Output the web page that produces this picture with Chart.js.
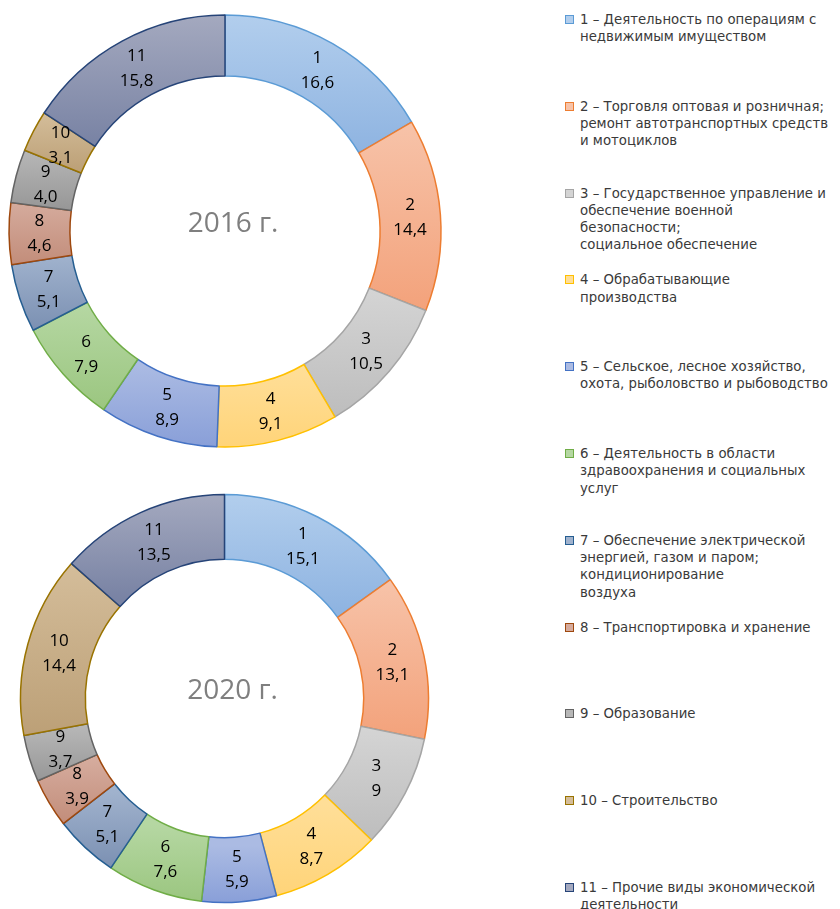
<!DOCTYPE html>
<html>
<head>
<meta charset="utf-8">
<script src="https://cdn.jsdelivr.net/npm/chart.js@4.4.1/dist/chart.umd.min.js"></script>
<style>
  body { margin: 0; background: #fff; width: 840px; height: 909px; overflow: hidden; position: relative; font-family: "Open Sans", sans-serif; }
  canvas { position: absolute; }
  #legend { position: absolute; left: 565px; top: 0; width: 275px; height: 909px; overflow: hidden; }
  .item { position: absolute; left: 0; white-space: nowrap; font-family: "DejaVu Sans", sans-serif; font-size: 13.3px; line-height: 17.3px; color: #3a3a3a; }
  .box { position: absolute; left: 0; top: 4px; width: 7px; height: 7px; border: 1px solid; }
  .txt { position: absolute; left: 15px; top: 0; }
</style>
</head>
<body>
<canvas id="chart2016" width="450" height="462" style="left:0;top:0"></canvas>
<canvas id="chart2020" width="449" height="447" style="left:0;top:475px"></canvas>
<div id="legend"></div>
<script>
// Data
var categories = ['1', '2', '3', '4', '5', '6', '7', '8', '9', '10', '11'];
var values2016 = [16.6, 14.4, 10.5, 9.1, 8.9, 7.9, 5.1, 4.6, 4.0, 3.1, 15.8];
var values2020 = [15.1, 13.1, 9, 8.7, 5.9, 7.6, 5.1, 3.9, 3.7, 14.4, 13.5];
var legendLabels = [
    ['1 – Деятельность по операциям с', 'недвижимым имуществом'],
    ['2 – Торговля оптовая и розничная;', 'ремонт автотранспортных средств', 'и мотоциклов'],
    ['3 – Государственное управление и', 'обеспечение военной', 'безопасности;', 'социальное обеспечение'],
    ['4 – Обрабатывающие', 'производства'],
    ['5 – Сельское, лесное хозяйство,', 'охота, рыболовство и рыбоводство'],
    ['6 – Деятельность в области', 'здравоохранения и социальных', 'услуг'],
    ['7 – Обеспечение электрической', 'энергией, газом и паром;', 'кондиционирование', 'воздуха'],
    ['8 – Транспортировка и хранение'],
    ['9 – Образование'],
    ['10 – Строительство'],
    ['11 – Прочие виды экономической', 'деятельности']
];

// Colors (gradient top -> bottom, outline)
var lightColors = ['#b2ceed', '#f7c3a9', '#d4d4d4', '#ffde97', '#abbbe3', '#b5d7a2', '#a0b2cd', '#d5ab9d', '#b7b7b7', '#d4bd9a', '#a4a9bf'];
var darkColors = ['#8fb4e1', '#f3a27b', '#bdbdbd', '#ffd479', '#899fd8', '#9bc680', '#7b90b2', '#c28d7a', '#979797', '#bca077', '#7983a4'];
var borderColors = ['#5b9bd5', '#ed7d31', '#a5a5a5', '#ffc000', '#4472c4', '#70ad47', '#255e91', '#9e480e', '#636363', '#997300', '#264478'];

// Gradient per slice, spanning the slice's own vertical extent
function sliceGradient(c, radius, cutout) {
    var chart = c.chart;
    var area = chart.chartArea;
    var i = c.dataIndex;
    if (!area || i === undefined) return lightColors[0];
    var data = c.dataset.data;
    var total = 0, before = 0;
    data.forEach(function(v, k) {
        total += v;
        if (k < i) before += v;
    });
    var a0 = -Math.PI / 2 + 2 * Math.PI * before / total;
    var a1 = a0 + 2 * Math.PI * data[i] / total;
    var cy = (area.top + area.bottom) / 2;
    var minY = Infinity, maxY = -Infinity;
    for (var s = 0; s <= 24; s++) {
        var a = a0 + (a1 - a0) * s / 24;
        [radius, cutout].forEach(function(r) {
            var y = cy + r * Math.sin(a);
            if (y < minY) minY = y;
            if (y > maxY) maxY = y;
        });
    }
    var g = chart.ctx.createLinearGradient(0, minY, 0, maxY);
    g.addColorStop(0, lightColors[i]);
    g.addColorStop(1, darkColors[i]);
    return g;
}

// Slice labels + center title
var sliceLabels = {
    id: 'sliceLabels',
    afterDatasetsDraw: function(chart, args, opts) {
        var ctx = chart.ctx;
        var meta = chart.getDatasetMeta(0);
        var values = chart.data.datasets[0].data;
        ctx.save();
        ctx.textAlign = 'center';
        ctx.textBaseline = 'middle';
        ctx.fillStyle = '#000';
        ctx.font = '17px "Open Sans"';
        meta.data.forEach(function(arc, i) {
            var p = arc.tooltipPosition();
            var txt = opts.fixed ? values[i].toFixed(1) : String(values[i]);
            ctx.fillText(chart.data.labels[i], p.x, p.y - 12);
            ctx.fillText(txt.replace('.', ','), p.x, p.y + 13);
        });
        var area = chart.chartArea;
        ctx.fillStyle = '#7f7f7f';
        ctx.font = '28px "Open Sans"';
        ctx.fillText(opts.title, (area.left + area.right) / 2 + 8, (area.top + area.bottom) / 2 - 7);
        ctx.restore();
    }
};

function makeChart(id, values, title, fixed, radius, cutout) {
    return new Chart(document.getElementById(id), {
        type: 'doughnut',
        data: {
            labels: categories,
            datasets: [{
                data: values,
                backgroundColor: function(c) { return sliceGradient(c, radius, cutout); },
                borderColor: borderColors,
                borderWidth: 1.5,
                hoverOffset: 0
            }]
        },
        options: {
            responsive: false,
            animation: false,
            radius: radius,
            cutout: cutout,
            layout: { padding: 0 },
            plugins: {
                legend: { display: false },
                tooltip: { enabled: false },
                sliceLabels: { title: title, fixed: fixed }
            }
        },
        plugins: [sliceLabels]
    });
}

makeChart('chart2016', values2016, '2016 г.', true, 216, 161);
makeChart('chart2020', values2020, '2020 г.', false, 204, 152);

// Legend
var legend = document.getElementById('legend');
legendLabels.forEach(function(lines, i) {
    var item = document.createElement('div');
    item.className = 'item';
    item.style.top = (11 + i * 86.8) + 'px';
    var box = document.createElement('div');
    box.className = 'box';
    box.style.background = lightColors[i];
    box.style.borderColor = borderColors[i];
    var txt = document.createElement('div');
    txt.className = 'txt';
    txt.innerHTML = lines.join('<br>');
    item.appendChild(box);
    item.appendChild(txt);
    legend.appendChild(item);
});
</script>
</body>
</html>
